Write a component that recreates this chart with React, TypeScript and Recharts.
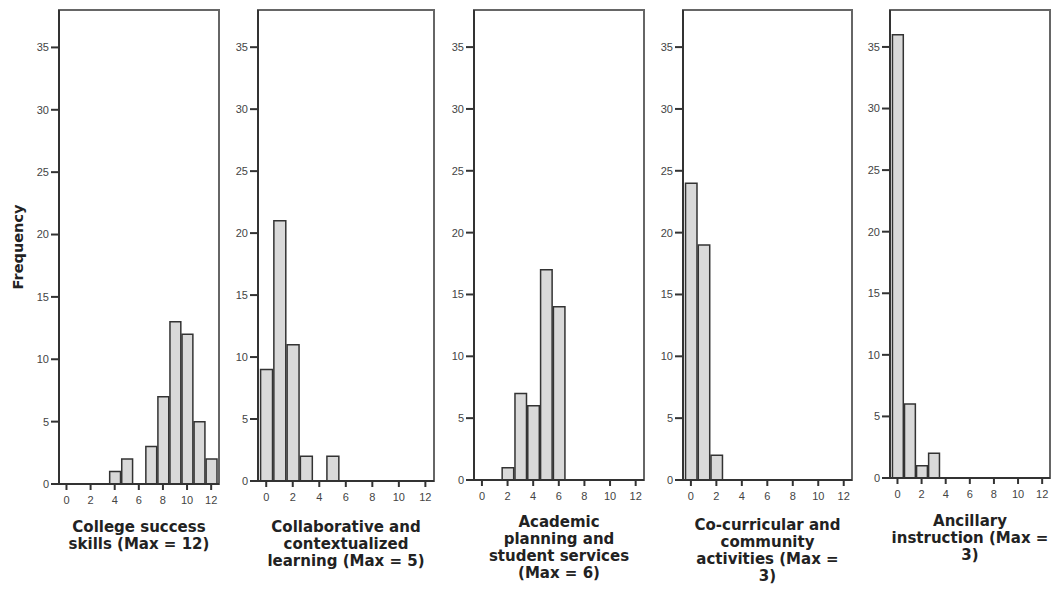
import { Bar, BarChart, ReferenceArea, XAxis, YAxis } from 'recharts'

// score values (0..12) and how many programs got each score
const scores = [0, 1, 2, 3, 4, 5, 6, 7, 8, 9, 10, 11, 12]
const collegeSuccess = [0, 0, 0, 0, 1, 2, 0, 3, 7, 13, 12, 5, 2]
const collaborative = [9, 21, 11, 2, 0, 2, 0, 0, 0, 0, 0, 0, 0]
const academic = [0, 0, 1, 7, 6, 17, 14, 0, 0, 0, 0, 0, 0]
const coCurricular = [24, 19, 2, 0, 0, 0, 0, 0, 0, 0, 0, 0, 0]
const ancillary = [36, 6, 1, 2, 0, 0, 0, 0, 0, 0, 0, 0, 0]

const xTicks = [0, 2, 4, 6, 8, 10, 12]
const yTicks = [0, 5, 10, 15, 20, 25, 30, 35]

const titles = [
  ['College success', 'skills (Max = 12)'],
  ['Collaborative and', 'contextualized', 'learning (Max = 5)'],
  ['Academic', 'planning and', 'student services', '(Max = 6)'],
  ['Co-curricular and', 'community', 'activities (Max =', '3)'],
  ['Ancillary', 'instruction (Max =', '3)'],
]

const series = [collegeSuccess, collaborative, academic, coCurricular, ancillary]

// plot box of each panel, in page pixels
const panels = [
  { left: 59, right: 219, bottom: 484, axisW: 59, titleDy: 48 },
  { left: 258, right: 434, bottom: 481, axisW: 40, titleDy: 51 },
  { left: 474, right: 644, bottom: 480, axisW: 40, titleDy: 47 },
  { left: 683, right: 852, bottom: 480, axisW: 40, titleDy: 50 },
  { left: 890, right: 1050, bottom: 478, axisW: 40, titleDy: 48 },
]

const X_DOMAIN: [number, number] = [-0.62, 12.65]
const Y_DOMAIN: [number, number] = [0, 38]
const TOP = 10
const FONT = '"DejaVu Sans", sans-serif'
const TICK_FONT = '"Liberation Sans", Arial, sans-serif'

function Title(props: any) {
  const { viewBox, lines, dy } = props
  const cx = viewBox.x + viewBox.width / 2
  return (
    <text textAnchor="middle" fontFamily={FONT} fontWeight="bold" fontSize={15} fill="#222">
      {lines.map((l: string, i: number) => (
        <tspan key={i} x={cx} y={viewBox.y + dy + i * 17}>
          {l}
        </tspan>
      ))}
    </text>
  )
}

function FreqLabel(props: any) {
  const { viewBox } = props
  const x = viewBox.x + 23
  const y = viewBox.y + viewBox.height / 2
  return (
    <text
      x={x}
      y={y}
      transform={`rotate(-90, ${x}, ${y})`}
      textAnchor="middle"
      fontFamily={FONT}
      fontWeight="bold"
      fontSize={14.5}
      fill="#222"
    >
      Frequency
    </text>
  )
}

function Panel({ idx }: { idx: number }) {
  const p = panels[idx]
  const boxW = p.right - p.left
  const data = scores.map((s, i) => ({ score: s, count: series[idx][i] }))
  const barSize = boxW / (X_DOMAIN[1] - X_DOMAIN[0])
  return (
    <div style={{ position: 'absolute', left: p.left - p.axisW, top: 0 }}>
      <BarChart
        width={p.axisW + boxW + 2}
        height={590}
        data={data}
        margin={{ top: TOP, right: 2, bottom: 0, left: 0 }}
        barCategoryGap={0}
        barGap={0}
      >
        <ReferenceArea
          x1={X_DOMAIN[0]}
          x2={X_DOMAIN[1]}
          y1={Y_DOMAIN[0]}
          y2={Y_DOMAIN[1]}
          fill="none"
          fillOpacity={0}
          stroke="#666"
          strokeWidth={2}
          strokeOpacity={1}
          ifOverflow="visible"
        />
        <XAxis
          dataKey="score"
          type="number"
          domain={X_DOMAIN}
          allowDataOverflow
          ticks={xTicks}
          interval={0}
          height={590 - p.bottom}
          tickSize={6}
          tickMargin={6}
          tick={{ fontSize: 11, fill: '#444', fontFamily: TICK_FONT }}
          tickLine={{ stroke: '#333', strokeWidth: 2 }}
          axisLine={{ stroke: '#333', strokeWidth: 2 }}
          label={<Title lines={titles[idx]} dy={p.titleDy} />}
        />
        <YAxis
          type="number"
          domain={Y_DOMAIN}
          allowDataOverflow
          ticks={yTicks}
          interval={0}
          width={p.axisW}
          tickSize={8}
          tickMargin={2}
          tick={{ fontSize: 11, fill: '#444', fontFamily: TICK_FONT }}
          tickLine={{ stroke: '#333', strokeWidth: 2 }}
          axisLine={{ stroke: '#333', strokeWidth: 2 }}
          label={idx === 0 ? <FreqLabel /> : undefined}
        />
        <Bar
          dataKey="count"
          fill="#d9d9d9"
          stroke="#333"
          strokeWidth={1.5}
          barSize={barSize}
          isAnimationActive={false}
        />
      </BarChart>
    </div>
  )
}

export default function App() {
  return (
    <div
      style={{
        position: 'absolute',
        left: 0,
        top: 0,
        width: 1052,
        height: 590,
        background: '#fff',
        overflow: 'hidden',
      }}
    >
      {panels.map((_, i) => (
        <Panel key={i} idx={i} />
      ))}
    </div>
  )
}
